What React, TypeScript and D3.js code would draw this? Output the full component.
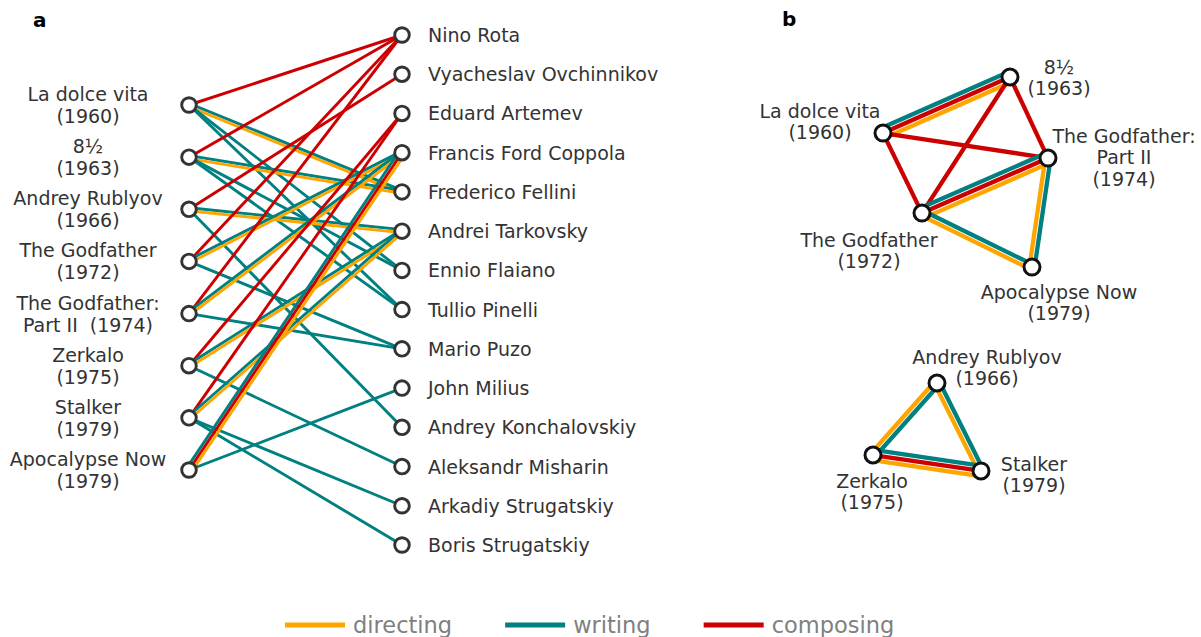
import React, { useEffect, useRef } from 'react';
import * as d3 from 'd3';

const films = ["dolce", "eight", "rublyov", "godfather", "godfather2", "zerkalo", "stalker", "apocalypse"];

const filmLabelsA = [
  ["La dolce vita", "(1960)"],
  ["8½", "(1963)"],
  ["Andrey Rublyov", "(1966)"],
  ["The Godfather", "(1972)"],
  ["The Godfather:", "Part II  (1974)"],
  ["Zerkalo", "(1975)"],
  ["Stalker", "(1979)"],
  ["Apocalypse Now", "(1979)"],
];

const filmLabelsB = [
  ["La dolce vita", "(1960)"],
  ["8½", "(1963)"],
  ["Andrey Rublyov", "(1966)"],
  ["The Godfather", "(1972)"],
  ["The Godfather:", "Part II", "(1974)"],
  ["Zerkalo", "(1975)"],
  ["Stalker", "(1979)"],
  ["Apocalypse Now", "(1979)"],
];

const people = [
  "Nino Rota",
  "Vyacheslav Ovchinnikov",
  "Eduard Artemev",
  "Francis Ford Coppola",
  "Frederico Fellini",
  "Andrei Tarkovsky",
  "Ennio Flaiano",
  "Tullio Pinelli",
  "Mario Puzo",
  "John Milius",
  "Andrey Konchalovskiy",
  "Aleksandr Misharin",
  "Arkadiy Strugatskiy",
  "Boris Strugatskiy",
];

// credits: [film, person]
const directing = [
  ["dolce", "Frederico Fellini"],
  ["eight", "Frederico Fellini"],
  ["rublyov", "Andrei Tarkovsky"],
  ["godfather", "Francis Ford Coppola"],
  ["godfather2", "Francis Ford Coppola"],
  ["zerkalo", "Andrei Tarkovsky"],
  ["stalker", "Andrei Tarkovsky"],
  ["apocalypse", "Francis Ford Coppola"],
];

const writing = [
  ["dolce", "Frederico Fellini"],
  ["dolce", "Ennio Flaiano"],
  ["dolce", "Tullio Pinelli"],
  ["eight", "Frederico Fellini"],
  ["eight", "Ennio Flaiano"],
  ["eight", "Tullio Pinelli"],
  ["rublyov", "Andrei Tarkovsky"],
  ["rublyov", "Andrey Konchalovskiy"],
  ["godfather", "Francis Ford Coppola"],
  ["godfather", "Mario Puzo"],
  ["godfather2", "Francis Ford Coppola"],
  ["godfather2", "Mario Puzo"],
  ["zerkalo", "Andrei Tarkovsky"],
  ["zerkalo", "Aleksandr Misharin"],
  ["stalker", "Andrei Tarkovsky"],
  ["stalker", "Arkadiy Strugatskiy"],
  ["stalker", "Boris Strugatskiy"],
  ["apocalypse", "Francis Ford Coppola"],
  ["apocalypse", "John Milius"],
];

const composing = [
  ["dolce", "Nino Rota"],
  ["eight", "Nino Rota"],
  ["rublyov", "Vyacheslav Ovchinnikov"],
  ["godfather", "Nino Rota"],
  ["godfather2", "Nino Rota"],
  ["zerkalo", "Eduard Artemev"],
  ["stalker", "Eduard Artemev"],
  ["apocalypse", "Francis Ford Coppola"],
];

const roles = ["directing", "writing", "composing"];

// panel b node layout (layout units)
const layoutX = [-0.77, 0.5, -0.23, -0.38, 0.88, -0.87, 0.21, 0.72];
const layoutY = [-0.652, -0.919, 0.538, -0.271, -0.533, 0.881, 0.957, -0.014];

const roleColor: Record<string, string> = {
  directing: "#FFA500",
  writing: "#008080",
  composing: "#CC0000",
};
// order used for parallel offsets (first = -side)
const offsetOrder = ["writing", "composing", "directing"];

// label placement for panel b: [dx, dy of first baseline]
const labelOffB = [[-63, -15], [49, -3], [50, -19], [-53, 34], [76, -15], [-1, 33], [53, 0], [27, 32]];

const FONT = "DejaVu Sans, sans-serif";
const TXT = "#333333";
const FS = 19;

export default function App() {
  const svgRef = useRef<SVGSVGElement>(null);

  useEffect(() => {
    document.body.style.margin = "0";
    if (!svgRef.current) return;
    const svg = d3.select(svgRef.current);
    svg.selectAll("*").remove();

    const credits: Record<string, string[][]> = { directing, writing, composing };

    // ---------- panel a ----------
    const yFilm = d3.scalePoint<string>().domain(films).range([105, 470]);
    const yPerson = d3.scalePoint<string>().domain(people).range([35, 545]);
    const xLeft = 189;
    const xRight = 402;

    const drawParallel = (
      g: d3.Selection<SVGGElement, unknown, null, undefined>,
      x1: number, y1: number, x2: number, y2: number,
      rs: string[], spacing: number, width: number
    ) => {
      const dx = x2 - x1, dy = y2 - y1;
      const len = Math.hypot(dx, dy);
      const nx = -dy / len, ny = dx / len;
      const sorted = offsetOrder.filter(r => rs.includes(r));
      sorted.forEach((r, k) => {
        const off = (k - (sorted.length - 1) / 2) * spacing;
        g.append("line")
          .attr("x1", x1 + nx * off).attr("y1", y1 + ny * off)
          .attr("x2", x2 + nx * off).attr("y2", y2 + ny * off)
          .attr("stroke", roleColor[r])
          .attr("stroke-width", width)
          .attr("stroke-linecap", "butt");
      });
    };

    const gA = svg.append("g");
    const edgesA = gA.append("g");
    films.forEach(f => {
      people.forEach(p => {
        const rs = roles.filter(r => credits[r].some(c => c[0] === f && c[1] === p));
        if (rs.length) drawParallel(edgesA, xLeft, yFilm(f)!, xRight, yPerson(p)!, rs, 3.0, 2.9);
      });
    });

    gA.selectAll(".nodeL").data(films).enter().append("circle")
      .attr("cx", xLeft).attr("cy", d => yFilm(d)!)
      .attr("r", 7.3).attr("fill", "white").attr("stroke", TXT).attr("stroke-width", 2.9);
    gA.selectAll(".nodeR").data(people).enter().append("circle")
      .attr("cx", xRight).attr("cy", d => yPerson(d)!)
      .attr("r", 7.3).attr("fill", "white").attr("stroke", TXT).attr("stroke-width", 2.9);

    films.forEach((f, i) => {
      const t = gA.append("text")
        .attr("x", 88).attr("y", yFilm(f)! - 4)
        .attr("text-anchor", "middle")
        .attr("font-family", FONT).attr("font-size", FS).attr("fill", TXT)
        .style("white-space", "pre");
      filmLabelsA[i].forEach((line, j) => {
        t.append("tspan").attr("x", 88).attr("dy", j === 0 ? 0 : 22).text(line);
      });
    });

    gA.selectAll(".pl").data(people).enter().append("text")
      .attr("x", 428).attr("y", d => yPerson(d)! + 7)
      .attr("font-family", FONT).attr("font-size", FS).attr("fill", TXT)
      .text(d => d);

    // ---------- panel b ----------
    const xB = d3.scaleLinear().domain([-1, 1]).range([860, 1060]);
    const yB = d3.scaleLinear().domain([-1, 1]).range([60, 480]);
    const gB = svg.append("g");
    const edgesB = gB.append("g");
    for (let i = 0; i < films.length; i++) {
      for (let j = i + 1; j < films.length; j++) {
        const rs = roles.filter(r => {
          const a = credits[r].filter(c => c[0] === films[i]).map(c => c[1]);
          return credits[r].some(c => c[0] === films[j] && a.includes(c[1]));
        });
        if (rs.length) {
          drawParallel(edgesB, xB(layoutX[i]), yB(layoutY[i]), xB(layoutX[j]), yB(layoutY[j]), rs, 5.2, 4.3);
        }
      }
    }
    gB.selectAll(".nodeB").data(films).enter().append("circle")
      .attr("cx", (_, i) => xB(layoutX[i])).attr("cy", (_, i) => yB(layoutY[i]))
      .attr("r", 8).attr("fill", "white").attr("stroke", "#111").attr("stroke-width", 3);

    films.forEach((_, i) => {
      const cx = xB(layoutX[i]) + labelOffB[i][0];
      const t = gB.append("text")
        .attr("x", cx).attr("y", yB(layoutY[i]) + labelOffB[i][1])
        .attr("text-anchor", "middle")
        .attr("font-family", FONT).attr("font-size", FS).attr("fill", TXT);
      filmLabelsB[i].forEach((line, j) => {
        t.append("tspan").attr("x", cx).attr("dy", j === 0 ? 0 : 21.3).text(line);
      });
    });

    // ---------- panel letters ----------
    svg.append("text").attr("x", 33).attr("y", 27)
      .attr("font-family", FONT).attr("font-weight", "bold").attr("font-size", 20).attr("fill", "#000").text("a");
    svg.append("text").attr("x", 782).attr("y", 26)
      .attr("font-family", FONT).attr("font-weight", "bold").attr("font-size", 20).attr("fill", "#000").text("b");

    // ---------- legend ----------
    const legend = svg.append("g");
    let lx = 285;
    const ly = 625;
    roles.forEach(r => {
      legend.append("line")
        .attr("x1", lx).attr("x2", lx + 60).attr("y1", ly).attr("y2", ly)
        .attr("stroke", roleColor[r]).attr("stroke-width", 5);
      const txt = legend.append("text")
        .attr("x", lx + 68).attr("y", ly + 8)
        .attr("font-family", FONT).attr("font-size", 22.5).attr("fill", "#808080")
        .text(r);
      const w = (txt.node() as SVGTextElement).getComputedTextLength();
      lx = lx + 68 + w + 53;
    });
  }, []);

  return (
    <svg ref={svgRef} width={1201} height={637} viewBox="0 0 1201 637"
      style={{ display: "block", background: "white" }} />
  );
}
